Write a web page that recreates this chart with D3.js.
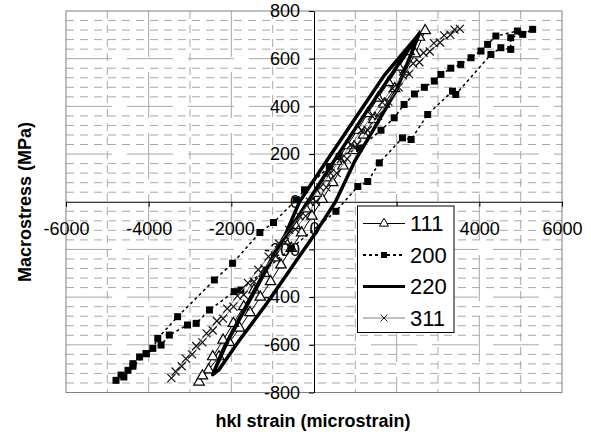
<!DOCTYPE html>
<html><head><meta charset="utf-8">
<script src="https://cdn.jsdelivr.net/npm/d3@7"></script>
<style>
html,body{margin:0;padding:0;background:#fff;}
svg{display:block;font-family:"Liberation Sans",Arial,sans-serif;}
</style></head>
<body><svg id="c" width="591" height="435"></svg>
<script>
// ---- data (hkl strain in microstrain, macrostress in MPa) ----
const seriesNames = ["111","200","220","311"];
const xTicks = [-6000,-4000,-2000,0,2000,4000,6000];
const xTickLabels = ["-6000","-4000","-2000","0","","4000","6000"]; // "2000" is hidden behind the legend
const yTicks = [-800,-600,-400,-200,0,200,400,600,800];

const x111 = [-2780,-2550,-2300,-2050,-1800,-1550,-1300,-1050,-800,-550,-300,-50,200,450,700,950,1200,1450,1700,1950,2200,2450,2690,
              2550,2300,2050,1800,1550,1300,1050,800,550,300,50,-200,-450,-700,-950,-1200,-1450,-1700,-1950,-2200,-2450,-2700];
const y111 = [-756,-705,-650,-590,-530,-465,-400,-335,-265,-195,-130,-60,10,80,150,215,280,345,410,475,545,620,718,
              690,630,565,500,435,370,300,235,170,100,35,-30,-100,-165,-235,-300,-370,-440,-510,-580,-650,-730];

const x200 = [-4790,-4670,-4500,-4380,-4220,-4060,-3900,-3780,-3300,-2410,-1970,-1310,-980,-430,-230,370,610,1100,1620,1940,2180,2430,2670,2910,3070,3310,3550,3800,4040,4200,4400,4920,5050,5290,
              4760,4760,4520,4280,3430,3350,2750,2350,2140,1580,1300,1060,530,-550,-1770,-1930,-2530,-2850,-3060,-3500,-3700,-4060,-4380,-4600];
const y200 = [-749,-727,-707,-679,-651,-637,-615,-573,-482,-328,-258,-129,-87,8,50,148,190,225,300,352,408,452,480,506,534,560,576,604,632,660,695,716,702,723,
              688,639,646,618,450,464,366,261,268,163,85,64,-40,-195,-370,-377,-454,-510,-517,-559,-601,-637,-690,-735];

const x220 = [-2450,-2200,-1700,-1200,-700,-350,300,1000,1700,2550,
              2350,2000,1500,1000,520,0,-600,-1200,-1800,-2300,-2450,
              -2050,-1500,-900,-150,500,1200,1900,2550];
const y220 = [-725,-620,-460,-300,-140,0,170,350,530,705,
              620,470,320,175,0,-140,-290,-440,-580,-705,-725,
              -570,-390,-200,0,175,360,540,705];

const x311 = [-3450,-3200,-2950,-2700,-2450,-2200,-1950,-1700,-1450,-1200,-950,-700,-450,-200,50,300,550,800,1050,1300,1550,1800,2050,2300,2550,2800,3050,3300,3530,
              3400,3150,2900,2650,2400,2150,1900,1650,1400,1150,900,650,400,150,-100,-350,-600,-850,-1100,-1350,-1600,-1850,-2100,-2350,-2600,-2850,-3100,-3350];
const y311 = [-740,-690,-640,-590,-540,-490,-440,-390,-335,-280,-225,-170,-115,-60,0,60,120,180,240,300,360,420,480,535,585,630,668,700,725,
              722,698,665,625,580,530,475,418,360,300,240,180,120,60,0,-60,-118,-175,-230,-285,-340,-395,-448,-500,-552,-605,-658,-712];

// ---- layout ----
const svg = d3.select("#c");
const X0 = 66, X1 = 562, Y0 = 11, Y1 = 392.5;
const x = d3.scaleLinear().domain([-6000,6000]).range([X0,X1]);
const y = d3.scaleLinear().domain([-800,800]).range([Y1,Y0]);
const gridColor = "#a8a8a8";

const grid = svg.append("g");
const yMinor = d3.range(-800,801,40).filter(v => v % 200 !== 0);
grid.selectAll(".hm").data(yMinor).join("line")
  .attr("x1",X0).attr("x2",X1).attr("y1",d=>y(d)).attr("y2",d=>y(d))
  .attr("stroke",gridColor).attr("stroke-width",1).attr("stroke-dasharray","8,6");
const xMinor = d3.range(-5000,5001,2000);
grid.selectAll(".vm").data(xMinor).join("line")
  .attr("y1",Y0).attr("y2",Y1).attr("x1",d=>x(d)).attr("x2",d=>x(d))
  .attr("stroke",gridColor).attr("stroke-width",1).attr("stroke-dasharray","8,6");
grid.selectAll(".hM").data(yTicks.filter(v=>Math.abs(v)!==800 && v!==0)).join("line")
  .attr("x1",X0).attr("x2",X1).attr("y1",d=>y(d)).attr("y2",d=>y(d))
  .attr("stroke",gridColor).attr("stroke-width",1).attr("stroke-dasharray","46,15");
grid.selectAll(".vM").data(xTicks.filter(v=>Math.abs(v)!==6000 && v!==0)).join("line")
  .attr("y1",Y0).attr("y2",Y1).attr("x1",d=>x(d)).attr("x2",d=>x(d))
  .attr("stroke",gridColor).attr("stroke-width",1).attr("stroke-dasharray","46,15");
svg.append("rect").attr("x",X0).attr("y",Y0).attr("width",X1-X0).attr("height",Y1-Y0)
  .attr("fill","none").attr("stroke","#808080").attr("stroke-width",1);

// axes crossing at 0
const yAxis = svg.append("g").attr("transform",`translate(${x(0)},0)`)
  .call(d3.axisLeft(y).tickValues(yTicks).tickFormat(d=>String(d)).tickSizeInner(5).tickSizeOuter(0).tickPadding(9));
const xAxis = svg.append("g").attr("transform",`translate(0,${y(0)})`)
  .call(d3.axisBottom(x).tickValues(xTicks).tickFormat((d,i)=>xTickLabels[i]).tickSizeInner(5).tickSizeOuter(0).tickPadding(15));
[xAxis,yAxis].forEach(a=>{
  a.selectAll("text").attr("font-size",18).attr("fill","#000").attr("font-family","Liberation Sans, Arial, sans-serif");
  a.select(".domain").attr("stroke","#000").attr("stroke-width",1);
  a.selectAll(".tick line").attr("stroke","#000");
});

// ---- series ----
const line = d3.line().x(d=>x(d[0])).y(d=>y(d[1]));
const zip = (a,b) => a.map((v,i)=>[v,b[i]]);
const d111 = zip(x111,y111), d200 = zip(x200,y200), d220 = zip(x220,y220), d311 = zip(x311,y311);

const triPath = d3.symbol(d3.symbolTriangle, 48)();
const sqPath = d3.symbol(d3.symbolSquare, 49)();
const xPath = "M-4,-4L4,4M-4,4L4,-4";

const gd = svg.append("g");
// 111
gd.append("path").attr("d",line(d111)).attr("fill","none").attr("stroke","#000").attr("stroke-width",1);
gd.append("g").selectAll("path").data(d111).join("path").attr("d",triPath)
  .attr("transform",d=>`translate(${x(d[0])},${y(d[1])})`)
  .attr("fill","#fff").attr("stroke","#000").attr("stroke-width",1.2);
// 200
gd.append("path").attr("d",line(d200)).attr("fill","none").attr("stroke","#000").attr("stroke-width",1.5).attr("stroke-dasharray","3,3");
gd.append("g").selectAll("path").data(d200).join("path").attr("d",sqPath)
  .attr("transform",d=>`translate(${x(d[0])},${y(d[1])})`).attr("fill","#000");
// 220
gd.append("path").attr("d",line(d220)).attr("fill","none").attr("stroke","#000").attr("stroke-width",3.5).attr("stroke-linejoin","round");
// 311
gd.append("path").attr("d",line(d311)).attr("fill","none").attr("stroke","#808080").attr("stroke-width",1);
gd.append("g").selectAll("path").data(d311).join("path").attr("d",xPath)
  .attr("transform",d=>`translate(${x(d[0])},${y(d[1])})`)
  .attr("fill","none").attr("stroke","#111").attr("stroke-width",1.2);

// ---- legend ----
const lg = svg.append("g");
lg.append("rect").attr("x",357.5).attr("y",206).attr("width",96.5).attr("height",126.5)
  .attr("fill","#fff").attr("stroke","#000").attr("stroke-width",1);
const legY = [223.5,255,286.5,318];
seriesNames.forEach((name,i)=>{
  const yy = legY[i];
  const ln = lg.append("line").attr("x1",363).attr("x2",405).attr("y1",yy).attr("y2",yy);
  if(i===0){ ln.attr("stroke","#000").attr("stroke-width",1);
    lg.append("path").attr("d",d3.symbol(d3.symbolTriangle, 36)()).attr("transform",`translate(384,${yy})`).attr("fill","#fff").attr("stroke","#000"); }
  if(i===1){ ln.attr("stroke","#000").attr("stroke-width",2).attr("stroke-dasharray","3,3");
    lg.append("path").attr("d",d3.symbol(d3.symbolSquare, 36)()).attr("transform",`translate(384,${yy})`).attr("fill","#000"); }
  if(i===2){ ln.attr("stroke","#000").attr("stroke-width",3); }
  if(i===3){ ln.attr("stroke","#808080").attr("stroke-width",1);
    lg.append("path").attr("d","M-3.5,-3.5L3.5,3.5M-3.5,3.5L3.5,-3.5").attr("transform",`translate(384,${yy})`).attr("fill","none").attr("stroke","#222"); }
  lg.append("text").attr("x",410).attr("y",yy).attr("dy","0.36em").attr("font-size",22).text(name);
});

// ---- axis titles ----
svg.append("text").attr("x",313).attr("y",427).attr("text-anchor","middle")
  .attr("font-size",18).attr("font-weight","bold").text("hkl strain (microstrain)");
svg.append("text").attr("transform","translate(31,202) rotate(-90)").attr("text-anchor","middle")
  .attr("font-size",18).attr("font-weight","bold").text("Macrostress (MPa)");
</script></body></html>
